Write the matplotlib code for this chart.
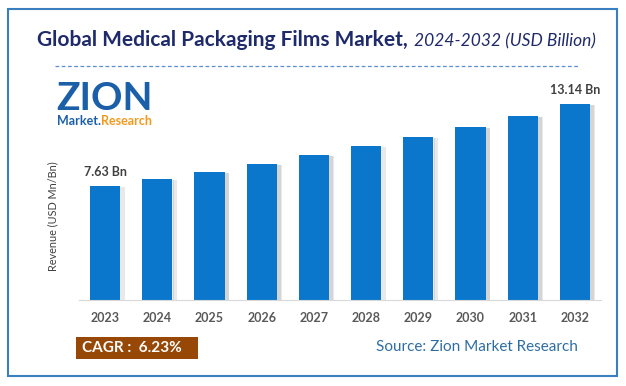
import matplotlib
matplotlib.use("agg")
import matplotlib.pyplot as plt
from matplotlib.patches import Rectangle
import numpy as np

# data
years = ['2023', '2024', '2025', '2026', '2027', '2028', '2029', '2030', '2031', '2032']
revenue = [7.63, 8.10, 8.58, 9.12, 9.70, 10.30, 10.92, 11.60, 12.33, 13.14]
first_label = '7.63 Bn'
last_label = '13.14 Bn'
cagr = 'CAGR :  6.23%'

W, H = 626, 386
fig = plt.figure(figsize=(W/100, H/100), dpi=100)
fnt = 'Lato'

def fx(px): return px/W
def fy(py): return 1 - py/H

# outer frame
fig.patches.append(Rectangle((fx(8), fy(376)), fx(609), (376-9)/H, transform=fig.transFigure,
                             fill=False, edgecolor='#3A7FC1', lw=1.5))

# title, bold part + italic part
navy = '#1F2A6B'
fig.text(fx(408), fy(40), 'Global Medical Packaging Films Market,', ha='right', va='center',
         fontsize=15, fontweight='bold', color=navy, family=fnt)
fig.text(fx(414), fy(41), '2024-2032 (USD Billion)', ha='left', va='center',
         fontsize=12.5, style='italic', color=navy, family=fnt)
fig.lines.append(plt.Line2D([fx(55), fx(580)], [fy(66), fy(66)], transform=fig.transFigure,
                            color='#5B8FD0', lw=0.9, ls=(0, (3, 2))))

# logo, rough
fig.text(fx(56), fy(99), 'ZION', ha='left', va='center', fontsize=28, fontweight='bold',
         color='#1B5FA8', family=fnt)
fig.text(fx(57), fy(121), 'Market.', ha='left', va='center', fontsize=9, fontweight='bold',
         color='#1B5FA8', family=fnt)
fig.text(fx(101), fy(121), 'Research', ha='left', va='center', fontsize=9, fontweight='bold',
         color='#F39A1E', family=fnt)

# chart
ax = fig.add_axes([fx(79), fy(300), fx(522), (300-80)/H])
x = np.arange(len(years))
bw = 0.575
for k in range(1, 6):
    ax.bar(x + bw/2 + k*0.018 - 0.01, np.array(revenue) - 0.08, width=0.03, color='#555555',
           alpha=0.13, zorder=1, linewidth=0)
ax.bar(x, revenue, width=bw, color='#0A77CC', zorder=2, linewidth=0)
ax.set_xlim(-0.5, 9.5)
ax.set_ylim(0, 220/14.95)
for s in ['top', 'right', 'left']:
    ax.spines[s].set_visible(False)
ax.spines['bottom'].set_color('#D9D9D9')
ax.set_yticks([])
ax.set_xticks(x)
ax.set_xticklabels(years, fontsize=9, fontweight='bold', color='#595959', family=fnt)
ax.tick_params(axis='x', length=0, pad=9)
fig.text(fx(53), fy(216), 'Revenue (USD Mn/Bn)', rotation=90, ha='center', va='center',
         fontsize=7.8, color='#404040', family=fnt)
ax.text(x[0], revenue[0] + 0.5, first_label, ha='center', va='bottom', fontsize=9,
        fontweight='bold', color='#404040', family=fnt)
ax.text(x[-1], revenue[-1] + 0.5, last_label, ha='center', va='bottom', fontsize=9,
        fontweight='bold', color='#404040', family=fnt)

# CAGR box and source
fig.patches.append(Rectangle((fx(76), fy(359)), fx(122), 22/H, transform=fig.transFigure,
                             facecolor='#974706', edgecolor='none'))
fig.text(fx(82), fy(348), cagr, ha='left', va='center', fontsize=11, fontweight='bold',
         color='white', family=fnt)
fig.text(fx(578), fy(347), 'Source: Zion Market Research', ha='right', va='center',
         fontsize=11, color='#2E6DA4', family=fnt)

fig.savefig('out.png', dpi=100)
